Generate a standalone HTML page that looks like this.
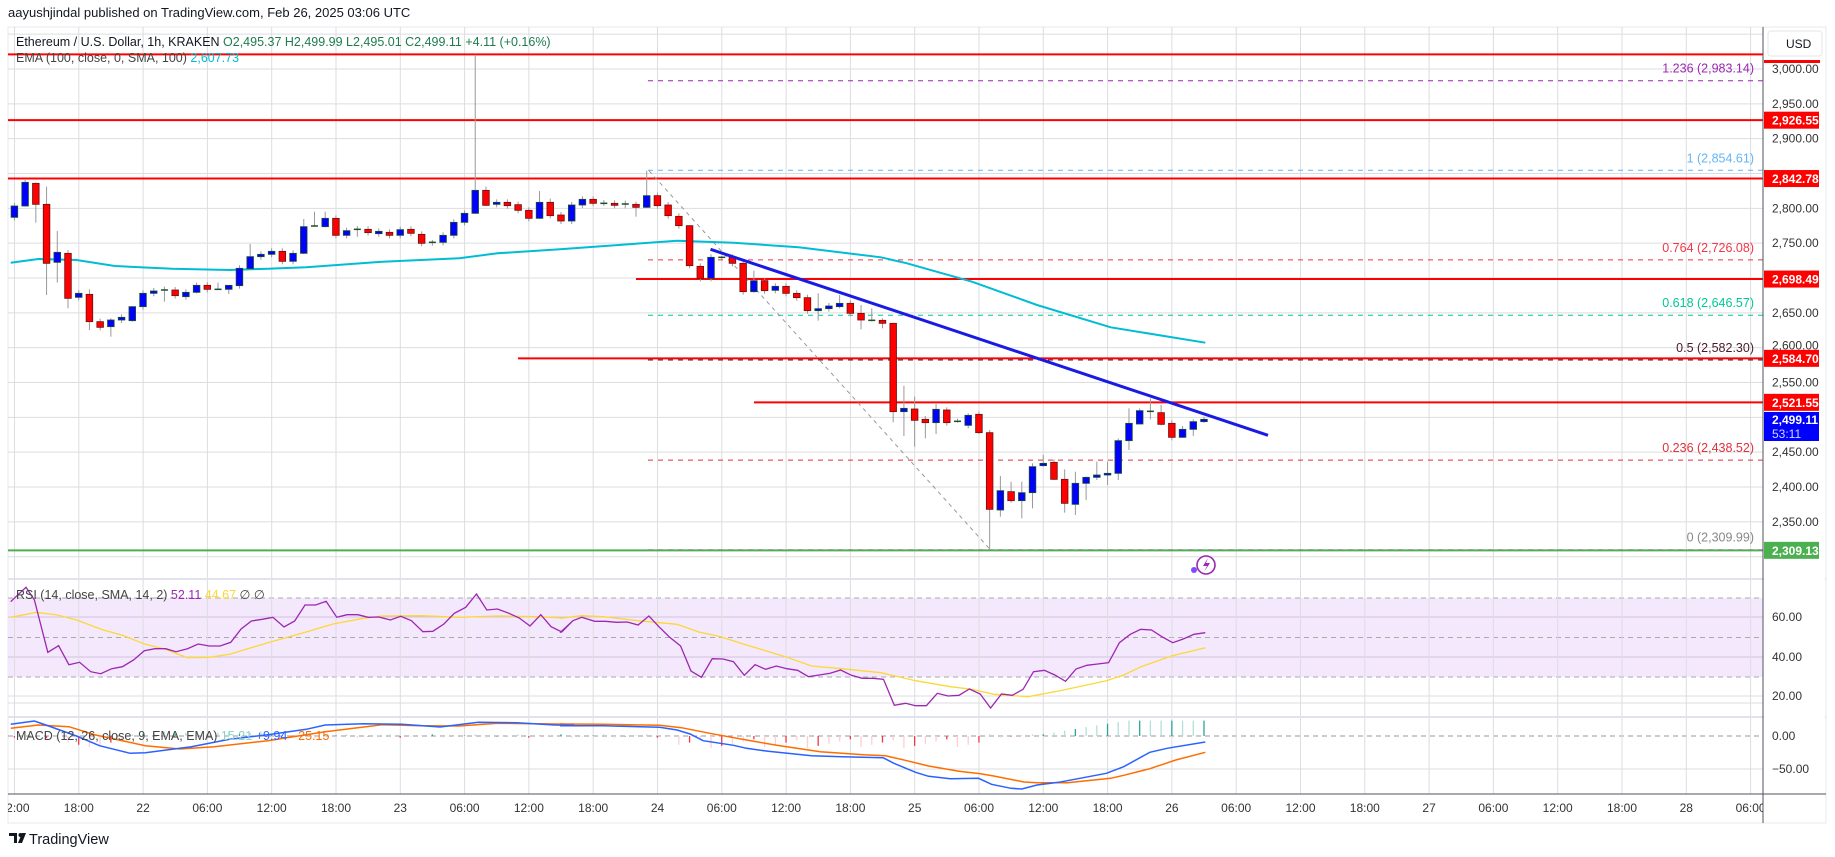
<!DOCTYPE html>
<html><head><meta charset="utf-8">
<style>
html,body{margin:0;padding:0;background:#fff;width:1835px;height:857px;overflow:hidden}
svg{display:block;font-family:"Liberation Sans",sans-serif}
</style></head>
<body>
<svg id="s" width="1835" height="857" xmlns="http://www.w3.org/2000/svg"></svg>
<script>
const S=document.getElementById('s');let out='';
function add(s){out+=s;}
const P=p=>69+(3000-p)*0.6967;
const X=h=>-114.2+10.717*h;
const RSI=v=>637.5-(v-50)*1.975;
// frame
add('<rect x="8" y="27" width="1818" height="796" fill="#fff" stroke="#e6e8ee"/>');
// horizontal grid price
for(let p=3000;p>=2350;p-=50){add(`<line x1="8" x2="1763" y1="${P(p)}" y2="${P(p)}" stroke="#dcdde0"/>`);}
add(`<line x1="8" x2="1763" y1="${P(3050)}" y2="${P(3050)}" stroke="#dcdde0"/>`);
add(`<line x1="8" x2="1763" y1="${P(2300)}" y2="${P(2300)}" stroke="#dcdde0"/>`);
// RSI grid
[617,657,696].forEach(y=>add(`<line x1="8" x2="1763" y1="${y}" y2="${y}" stroke="#dcdde0"/>`));
add('<rect x="8" y="598" width="1755" height="79" fill="#f3e5fd" opacity="0.9"/>');
[598,637.5,677].forEach(y=>add(`<line x1="8" x2="1763" y1="${y}" y2="${y}" stroke="#aaa" stroke-dasharray="5,4"/>`));
[617,657].forEach(y=>add(`<line x1="8" x2="1763" y1="${y}" y2="${y}" stroke="#d2c2df"/>`));
// MACD grid
[769,703].forEach(y=>add(`<line x1="8" x2="1763" y1="${y}" y2="${y}" stroke="#dcdde0"/>`));
add('<line x1="8" x2="1763" y1="736" y2="736" stroke="#999" stroke-dasharray="5,4"/>');
// vertical grid + time labels
const labs=['12:00','18:00','22','06:00','12:00','18:00','23','06:00','12:00','18:00','24','06:00','12:00','18:00','25','06:00','12:00','18:00','26','06:00','12:00','18:00','27','06:00','12:00','18:00','28','06:00'];
let tl='';
labs.forEach((l,i)=>{const x=14.5+64.3*i;add(`<line x1="${x}" x2="${x}" y1="27" y2="794" stroke="#dcdde0"/>`);tl+=`<text x="${x}" y="812" font-size="12" fill="#333" text-anchor="middle">${l}</text>`;});
// separators
add('<line x1="8" x2="1826" y1="579" y2="579" stroke="#e0e3eb" stroke-width="2"/>');
add('<line x1="8" x2="1826" y1="717" y2="717" stroke="#e0e3eb" stroke-width="2"/>');
// red levels
[[3021,8],[2926.55,8],[2842.78,8],[2698.49,636],[2584.70,518],[2521.55,754]].forEach(([p,x])=>add(`<line x1="${x}" x2="1763" y1="${P(p)}" y2="${P(p)}" stroke="#ff0000" stroke-width="2"/>`));
add(`<line x1="8" x2="1763" y1="${P(2309.13)}" y2="${P(2309.13)}" stroke="#4caf50" stroke-width="2"/>`);
// fib
const fib=[[2983.14,'#9c27b0','1.236 (2,983.14)'],[2854.61,'#64b5f6','1 (2,854.61)'],[2726.08,'#f23645','0.764 (2,726.08)'],[2646.57,'#00c896','0.618 (2,646.57)'],[2582.30,'#4a1a2c','0.5 (2,582.30)'],[2438.52,'#e0303a','0.236 (2,438.52)'],[2309.99,'#888','0 (2,309.99)']];
fib.forEach(([p,c,t])=>{add(`<line x1="648" x2="1763" y1="${P(p)}" y2="${P(p)}" stroke="${c}" stroke-dasharray="5,5"/>`);add(`<text x="1754" y="${P(p)-8}" font-size="12.5" fill="${c}" text-anchor="end">${t}</text>`);});
// diagonal
add('<line x1="649" y1="170.7" x2="990.6" y2="550" stroke="#999" stroke-dasharray="4,4"/>');
// EMA
const ema=[[10.7,262.7],[38.3,259],[76.5,260],[114.8,266],[172.2,268.7],[229.6,270],[267.9,268.7],[306.2,267.3],[382.7,261.7],[459.2,258.3],[497.5,253.3],[560,249.3],[677.1,240.7],[733.5,242.7],[798.5,247.3],[880.9,257.3],[906.9,263.3],[972,281.7],[1037,305],[1110.7,327.3],[1205.3,342.7]];
add(`<polyline fill="none" stroke="#00bcd4" stroke-width="2" points="${ema.map(p=>p.join(',')).join(' ')}"/>`);
// candles zoom7 data: h, zyO, zyC, wickTop, wickBot (zy), y=40+zy/3
const c7=[[12,532,498],[13,498,427,420,500],[14,430,493,428,548],[15,493,670,440,765],[16,667,637,573,728],[17,640,775,630,805],[18,772,760],[19,763,845,748,870],[20,845,862],[21,860,840,835,890],[22,840,832],[23,842,800,798,845],[24,800,760],[25,760,753],[26,750,750,740,785],[27,750,767],[28,770,757],[29,757,736,728,760],[30,736,748],[31,748,748,728,750],[32,748,736,736,762],[33,737,685],[34,686,650,612,690],[35,650,643],[36,643,634],[37,634,664],[38,664,640],[39,640,560,537,642],[40,558,558,515,560],[41,560,535,515,562],[42,535,586],[43,586,572],[44,568,568,558,590],[45,568,578],[46,581,574],[47,577,586],[48,586,569],[49,568,580],[50,583,610],[51,607,607,600,617],[52,607,586],[53,586,547],[54,547,520],[55,520,451,44,522],[56,451,496,440,498],[57,493,487],[58,487,497],[59,494,511],[60,511,535],[61,535,487,453,537],[62,487,527,476,535]];
const c6=[[63,195,213],[64,213,165],[65,165,148],[66,148,160],[67,160,160,150,168],[68,160,166],[69,162,162,152,175],[70,163,172,155,200],[71,172,137,62,174],[72,137,167],[73,165,197],[74,199,227],[75,227,347,225,355],[76,349,385],[77,385,322],[78,322,322,318,328],[79,322,340],[80,340,425],[81,425,392,362,428],[82,392,422],[83,421,409],[84,409,430],[85,430,443],[86,443,482],[87,482,476,430,512],[88,476,468],[89,470,460,435,475],[90,460,490],[91,490,510,465,538],[92,511,511,475,514],[93,511,520,505,535],[94,520,785,518,817],[95,785,775,707,858],[96,777,811,740,890],[97,808,818,798,865],[98,818,778,762,852],[99,780,818,772,827],[100,814,814,806,818],[101,826,796,790,835],[102,793,848,785,852],[103,848,1078,840,1200],[104,1080,1022,978,1100],[105,1025,1052,995,1058],[106,1052,1028,995,1105],[107,1028,950,940,1075],[108,947,940,915,950],[109,937,988,928,990],[110,988,1060,958,1088],[111,1063,1000,965,1095],[112,1000,982,980,1050],[113,982,975,935,990],[114,975,970,935,1005],[115,970,872,865,990],[116,872,820,775,900],[117,822,782,775,823],[118,784,784,745,808],[119,788,823,765,826],[120,820,862],[121,862,838,828,864],[122,838,815,808,858],[123,815,808,800,818]];
function candle(h,yo,yc,wt,wb){const x=X(h);const top=Math.min(yo,yc),bot=Math.max(yo,yc);wt=wt===undefined?top-3:wt;wb=wb===undefined?bot+3:wb;const up=yc<yo;const col=up?'#0000ff':'#ff0000';const st=up?'#1b4d2e':'#6b1010';
add(`<line x1="${x}" x2="${x}" y1="${wt}" y2="${wb}" stroke="#999" stroke-width="1"/>`);
if(bot-top<1.5){add(`<line x1="${x-3.5}" x2="${x+3.5}" y1="${top}" y2="${top}" stroke="${yo===yc?'#1b4d2e':st}" stroke-width="1.5"/>`);}
else add(`<rect x="${x-3.3}" y="${top}" width="6.6" height="${bot-top}" fill="${col}" stroke="${st}" stroke-width="0.8"/>`);}
c7.forEach(c=>candle(c[0],40+c[1]/3,40+c[2]/3,c[3]!==undefined?40+c[3]/3:undefined,c[4]!==undefined?40+c[4]/3:undefined));
c6.forEach(c=>candle(c[0],150+c[1]/3,150+c[2]/3,c[3]!==undefined?150+c[3]/3:undefined,c[4]!==undefined?150+c[4]/3:undefined));
// trendline
add('<line x1="710.5" y1="249.3" x2="1268" y2="435.3" stroke="#1a1ae6" stroke-width="3"/>');
// icon
add('<circle cx="1206" cy="565" r="9" fill="none" stroke="#9c27b0" stroke-width="1.6"/><path d="M1208 558 L1203 566 L1207 566 L1204 572 L1210 563 L1206 563 Z" fill="#9c27b0"/><circle cx="1194" cy="570" r="3" fill="#7c4dff"/>');
// RSI lines
const r7=[[28,305],[68,262],[90,300],[125,457],[153,437],[180,494],[208,487],[237,515],[263,521],[292,506],[320,500],[350,479],[377,452],[405,446],[433,446],[460,455],[490,446],[518,432],[547,438],[575,438],[603,427],[630,387],[657,363],[685,358],[713,352],[742,381],[770,363],[797,315],[825,315],[852,304],[880,352],[907,344],[935,344],[962,352],[990,351],[1020,360],[1047,349],[1075,362],[1105,395],[1131,394],[1160,372],[1187,340],[1217,322],[1245,282],[1272,330],[1300,327],[1330,340],[1357,354],[1385,378],[1413,344],[1440,380],[1468,396],[1497,362]].map(p=>[p[0]/2.613,500+p[1]/3]);
const r6=[[0,158],[30,122],[50,112],[80,124],[105,124],[130,127],[155,126],[180,135],[205,108],[228,140],[253,172],[278,198],[302,273],[326,292],[351,236],[376,237],[400,245],[425,286],[450,254],[474,268],[499,258],[523,266],[548,271],[573,290],[598,285],[623,280],[647,270],[672,286],[697,295],[722,295],[746,298],[771,376],[797,370],[820,377],[845,377],[870,340],[895,348],[920,346],[944,327],[969,342],[993,384],[1018,342],[1043,346],[1068,328],[1092,275],[1117,271],[1141,285],[1166,304],[1190,267],[1215,256],[1240,252],[1265,248],[1290,188],[1315,163],[1339,148],[1364,150],[1388,170],[1413,188],[1437,177],[1462,163],[1488,158]].map(p=>[560+p[0]/2.306,580+p[1]/3]);
const y7=[[28,352],[95,337],[150,345],[200,360],[270,390],[320,406],[380,433],[430,447],[490,473],[547,472],[600,463],[700,428],[800,396],[870,372],[950,355],[1000,348],[1100,347],[1200,352],[1300,348],[1400,350],[1460,353]].map(p=>[p[0]/2.613,500+p[1]/3]);
const y6=[[0,115],[50,107],[100,110],[180,122],[270,133],[320,156],[370,170],[430,195],[520,230],[580,258],[650,266],[740,278],[820,302],[900,320],[950,328],[1000,343],[1080,350],[1150,333],[1260,302],[1300,285],[1340,260],[1410,228],[1488,203]].map(p=>[560+p[0]/2.306,580+p[1]/3]);
const pl=(a,c,w)=>add(`<polyline fill="none" stroke="${c}" stroke-width="${w}" points="${a.map(p=>p[0].toFixed(1)+','+p[1].toFixed(1)).join(' ')}"/>`);
pl(y7.concat(y6),'#fdd835',1.3);
pl(r7.concat(r6),'#9c27b0',1.3);
// MACD histogram
for(let h=12;h<=123;h++){let v=0;
 if(h>=15&&h<=22)v=-(10-Math.abs(h-19)*2);else if(h>=24&&h<=36)v=2+ (h%3);else if(h>=74&&h<=102)v=-(3+((h*7)%9));else if(h>=108)v=Math.min(14,(h-107)*1.6);else v=(h%4)-1.5;
 const x=X(h);const col=v<0?(h%3?'#ffcdd2':'#f23645'):(h%3?'#b2dfdb':'#26a69a');add(`<line x1="${x}" x2="${x}" y1="736" y2="${736-v*1.1}" stroke="${col}" stroke-width="1.3"/>`);}
const m9b=[[28,73],[90,63],[120,75],[200,108],[260,137],[340,160],[380,158],[500,140],[600,118],[700,104],[800,88],[850,75],[950,71],[1050,73],[1150,81],[1250,67],[1350,68],[1450,75],[1500,76]].map(p=>[p[0]/2.613,700+p[1]/3]);
const m9o=[[28,85],[100,75],[180,80],[250,105],[380,137],[470,147],[560,140],[700,122],[850,95],[1000,74],[1100,77],[1200,78],[1300,70],[1400,71],[1500,73]].map(p=>[p[0]/2.613,700+p[1]/3]);
const m8b=[[0,437],[100,437],[230,442],[270,450],[300,462],[330,482],[400,496],[430,505],[480,514],[580,527],[650,530],[745,533],[770,550],[820,577],[850,589],[900,596],[965,595],[995,613],[1040,625],[1065,627],[1100,615],[1150,607],[1260,580],[1300,560],[1360,517],[1400,505],[1488,486]].map(p=>[560+p[0]/2.306,580+p[1]/3]);
const m8o=[[0,432],[100,433],[230,436],[280,443],[350,461],[430,480],[500,496],[600,515],[700,524],[750,527],[800,542],[850,558],[920,574],[970,581],[1000,588],[1070,606],[1100,608],[1170,608],[1270,595],[1300,586],[1360,566],[1420,540],[1488,517]].map(p=>[560+p[0]/2.306,580+p[1]/3]);
pl(m9o.concat(m8o),'#ff6d00',1.5);
pl(m9b.concat(m8b),'#2962ff',1.5);
// right axis area
add('<rect x="1764" y="28" width="61" height="765" fill="#fff"/>');
add('<line x1="1763" x2="1763" y1="27" y2="823" stroke="#50535e"/>');
add('<line x1="8" x2="1826" y1="794" y2="794" stroke="#50535e"/>');
add('<rect x="1768" y="31" width="54" height="25" rx="3" fill="#fff" stroke="#e6e6e6"/><text x="1786" y="48" font-size="12" fill="#131722">USD</text>');
for(let p=3000;p>=2350;p-=50){if([2850,2500,2600].includes(p))continue;add(`<text x="1772" y="${P(p)+4}" font-size="12" fill="#333">${p.toLocaleString('en-US')}.00</text>`);}
add(`<text x="1772" y="${P(2600)+2}" font-size="12" fill="#333">2,600.00</text>`);
add('<rect x="1764" y="60" width="56" height="3" fill="#ff0000"/>');
[[2926.55],[2842.78],[2698.49],[2584.70],[2521.55]].forEach(([p])=>add(`<rect x="1764" y="${P(p)-8.5}" width="55" height="17" fill="#ff0000"/><text x="1772" y="${P(p)+4.5}" font-size="12" font-weight="bold" fill="#fff">${p.toLocaleString('en-US',{minimumFractionDigits:2})}</text>`));
add(`<rect x="1764" y="${P(2309.13)-8.5}" width="55" height="17" fill="#4caf50"/><text x="1772" y="${P(2309.13)+4.5}" font-size="12" font-weight="bold" fill="#fff">2,309.13</text>`);
add('<rect x="1764" y="412" width="55" height="29" fill="#0000ff"/><text x="1772" y="424" font-size="12" font-weight="bold" fill="#fff">2,499.11</text><text x="1772" y="438" font-size="12" fill="#cfd8ff">53:11</text>');
[[60,617],[40,657],[20,696]].forEach(([v,y])=>add(`<text x="1772" y="${y+4}" font-size="12" fill="#333">${v}.00</text>`));
add('<text x="1772" y="740" font-size="12" fill="#333">0.00</text><text x="1772" y="773" font-size="12" fill="#333">−50.00</text>');
// time labels
add(`<svg x="8" y="794" width="1755" height="28" overflow="hidden"><g transform="translate(-8,-794)">${tl}</g></svg>`);
// texts
add('<text x="8" y="17" font-size="13" fill="#131722">aayushjindal published on TradingView.com, Feb 26, 2025 03:06 UTC</text>');
add('<text x="16" y="46" font-size="12.5" fill="#131722">Ethereum / U.S. Dollar, 1h, KRAKEN <tspan fill="#1e7c50">O2,495.37 H2,499.99 L2,495.01 C2,499.11 +4.11 (+0.16%)</tspan></text>');
add('<text x="16" y="62" font-size="12.5" fill="#444">EMA (100, close, 0, SMA, 100) <tspan fill="#00bcd4">2,607.73</tspan></text>');
add('<text x="16" y="599" font-size="12.5" fill="#444">RSI (14, close, SMA, 14, 2) <tspan fill="#9c27b0">52.11</tspan> <tspan fill="#fdd835">44.67</tspan> ∅ ∅</text>');
add('<text x="16" y="740" font-size="12.5" fill="#444">MACD (12, 26, close, 9, EMA, EMA) <tspan fill="#8fd3c8">15.21</tspan> <tspan fill="#2962ff">+9.94</tspan> <tspan fill="#ff6d00">−25.15</tspan></text>');
add('<path d="M9 833 h8 v10 h-3 v-7 h-5z M18 843 l4 -10 h4 l-4 10z" fill="#131722"/><circle cx="20.5" cy="835" r="2" fill="#131722"/><text x="29" y="844" font-size="14.5" fill="#131722">TradingView</text>');
S.innerHTML=out;
</script>
</body></html>
